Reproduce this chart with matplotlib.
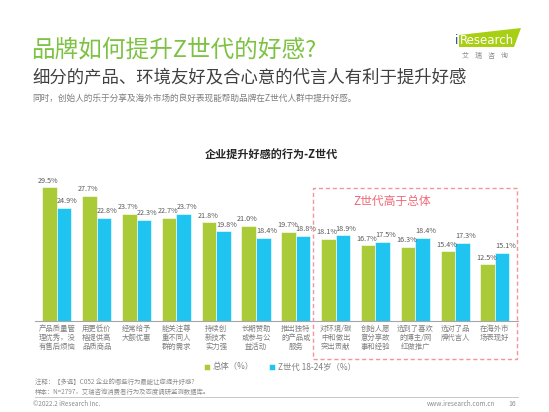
import numpy as np
import matplotlib
matplotlib.use("Agg")
import matplotlib.pyplot as plt
from matplotlib.patches import Polygon, Rectangle

plt.rcParams['font.family'] = ['Noto Sans CJK SC', 'DejaVu Sans']

# Data
categories = [
    "产品质量管\n理优秀，没\n有售后烦恼",
    "用更低价\n格提供高\n品质商品",
    "经常给予\n大额优惠",
    "能关注尊\n重不同人\n群的需求",
    "持续创\n新技术\n实力强",
    "长期赞助\n或参与公\n益活动",
    "推出独特\n的产品或\n服务",
    "对环境/碳\n中和做出\n突出贡献",
    "创始人愿\n意分享故\n事和经验",
    "选到了喜欢\n的博主/网\n红做推广",
    "选对了品\n牌代言人",
    "在海外市\n场表现好",
]
overall = [29.5, 27.7, 23.7, 22.7, 21.8, 21.0, 19.7, 18.1, 16.7, 16.3, 15.4, 12.5]
gen_z = [24.9, 22.8, 22.3, 23.7, 19.8, 18.4, 18.8, 18.9, 17.5, 18.4, 17.3, 15.1]

GREEN = '#AACB37'
BLUE = '#1FC5F0'
TEXT_GRAY = '#595959'
W, H = 549, 412

fig = plt.figure(figsize=(W / 100, H / 100), dpi=100)


def fx(px):
    return px / W


def fy(py):
    return 1 - py / H


# Header
fig.text(fx(31), fy(50), "品牌如何提升Z世代的好感?", fontsize=17, color='#7DC243',
         va='center', ha='left')
fig.text(fx(32), fy(77), "细分的产品、环境友好及合心意的代言人有利于提升好感", fontsize=12.5,
         color='#404040', va='center', ha='left')
fig.text(fx(32), fy(98), "同时，创始人的乐于分享及海外市场的良好表现能帮助品牌在Z世代人群中提升好感。",
         fontsize=6.25, color='#7f7f7f', va='center', ha='left')

# Logo
logo = Polygon([(fx(459), fy(35)), (fx(521), fy(28)), (fx(514), fy(47)), (fx(459), fy(47))],
               closed=True, transform=fig.transFigure, facecolor='#A8CF14', edgecolor='none')
fig.patches.append(logo)
fig.text(fx(457), fy(40), "i", fontsize=8.5, color='#1E3E8C', ha='center', va='center',
         family=['DejaVu Sans'])
fig.text(fx(460), fy(40), "Research", fontsize=8.5, color='white', ha='left', va='center',
         family=['DejaVu Sans'])
fig.text(fx(485), fy(56), "艾    瑞    咨    询", fontsize=5, color='#8c8c8c', ha='center', va='center')

# Chart title
fig.text(fx(271), fy(155), "企业提升好感的行为-Z世代", fontsize=8, fontweight='bold',
         color='#262626', ha='center', va='center')

# Axes
left_px, right_px, base_px = 35, 518, 321
ymax = 33
px_per_unit = 4.53
top_px = base_px - ymax * px_per_unit
ax = fig.add_axes([fx(left_px), fy(base_px), fx(right_px - left_px), (base_px - top_px) / H])

x = np.arange(len(categories))
bw = 0.365
ax.bar(x - bw / 2, overall, bw, color=GREEN, edgecolor='white', linewidth=0.4, label='总体（%）')
ax.bar(x + bw / 2, gen_z, bw, color=BLUE, edgecolor='white', linewidth=0.4, label='Z世代 18-24岁（%）')

for i in range(len(categories)):
    ax.text(x[i] - bw / 2 - 0.03, overall[i] + 0.6, f"{overall[i]:.1f}%", ha='center', va='bottom',
            fontsize=5.2, color=TEXT_GRAY)
    ax.text(x[i] + bw / 2 + 0.08, gen_z[i] + 0.6, f"{gen_z[i]:.1f}%", ha='center', va='bottom',
            fontsize=5.2, color=TEXT_GRAY)

ax.set_xlim(-0.55, 11.58)
ax.set_ylim(0, ymax)
ax.set_yticks([])
ax.set_xticks(x)
ax.set_xticklabels(categories, fontsize=5.3, color='#7f7f7f', linespacing=1.15)
ax.tick_params(axis='x', length=0, pad=3)
for side in ['top', 'right', 'left']:
    ax.spines[side].set_visible(False)
ax.spines['bottom'].set_color('#a6a6a6')
ax.spines['bottom'].set_linewidth(0.8)
ax.patch.set_alpha(0)

# Highlight box
box = Rectangle((fx(313), fy(359)), fx(517 - 313), (359 - 188) / H, transform=fig.transFigure,
                fill=False, edgecolor='#F4949C', linewidth=1.0, linestyle=(0, (3, 2)))
fig.patches.append(box)
fig.text(fx(392), fy(201), "Z世代高于总体", fontsize=8.5, color='#F06977', ha='center', va='center')

# Legend
fig.legend(loc='center', bbox_to_anchor=(fx(280), fy(367)), ncol=2, frameon=False,
           fontsize=6, handlelength=0.7, handleheight=0.7, handletextpad=0.4, columnspacing=1.8,
           labelcolor='#7f7f7f')

# Notes and footer
fig.text(fx(35), fy(382), "注释：【多选】C052 企业的哪些行为最能让您提升好感?", fontsize=4.6,
         color='#8c8c8c', ha='left', va='center')
fig.text(fx(35), fy(392), "样本：N=2797，艾瑞咨询消费者行为及态度调研监测数据库。", fontsize=4.6,
         color='#8c8c8c', ha='left', va='center')
fig.add_artist(plt.Line2D([fx(35), fx(518)], [fy(397), fy(397)], color='#bfbfbf', linewidth=0.6))
fig.text(fx(33), fy(404), "©2022.2 iResearch Inc.", fontsize=4.6, color='#8c8c8c',
         ha='left', va='center')
fig.text(fx(495), fy(404), "www.iresearch.com.cn", fontsize=4.6, color='#8c8c8c',
         ha='right', va='center')
fig.text(fx(512), fy(404), "16", fontsize=5, color='#8c8c8c', ha='center', va='center')

fig.savefig('out.png', dpi=100)
